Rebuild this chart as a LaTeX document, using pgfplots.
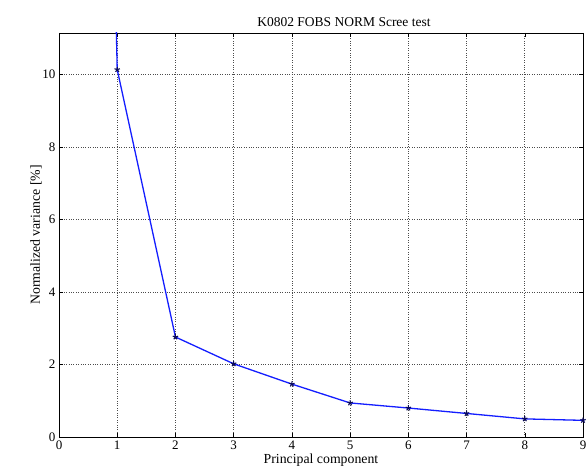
\documentclass[border=0pt]{standalone}
\usepackage{fontspec}
\setmainfont{Liberation Serif}
\usepackage{pgfplots}
\pgfplotsset{compat=1.18}

\definecolor{lineblue}{RGB}{20,30,255}
\definecolor{markblue}{RGB}{10,10,90}

\begin{document}
\begin{tikzpicture}
\begin{axis}[
  scale only axis,
  width=524pt, height=404pt,
  xmin=0, xmax=9, ymin=0, ymax=11.15,
  xtick={0,1,...,9},
  ytick={0,2,4,6,8,10},
  tick align=inside,
  major tick length=4pt,
  tick style={black, line width=0.4pt},
  xmajorgrids, ymajorgrids,
  grid style={black!70, dotted, line width=0.6pt},
  axis line style={black, line width=0.8pt},
  /pgf/number format/assume math mode=true,
  ticklabel style={font=\fontsize{13}{15}\selectfont},
  title={K0802 FOBS NORM Scree test},
  title style={font=\fontsize{13.5}{15}\selectfont, yshift=-3pt, xshift=23pt},
  xlabel={Principal component},
  ylabel={Normalized variance [\%]},
  label style={font=\fontsize{13.8}{15}\selectfont},
  xlabel style={yshift=2pt},
  ylabel style={yshift=-6pt},
  clip=true,
]
% first component carries most of the variance and runs off the top
\addplot[lineblue, line width=1.3pt, mark=star, mark size=2.8pt,
  mark options={markblue, solid, line width=1.1pt}]
  coordinates {
    (0,80.0)
    (1,10.14)
    (2,2.76)
    (3,2.02)
    (4,1.46)
    (5,0.94)
    (6,0.80)
    (7,0.65)
    (8,0.50)
    (9,0.46)
  };
\end{axis}
\pgfresetboundingbox
\path[use as bounding box]
  ([shift={(-59pt,-32pt)}]current axis.south west)
  rectangle ([shift={(3pt,33pt)}]current axis.north east);
\end{tikzpicture}
\end{document}
